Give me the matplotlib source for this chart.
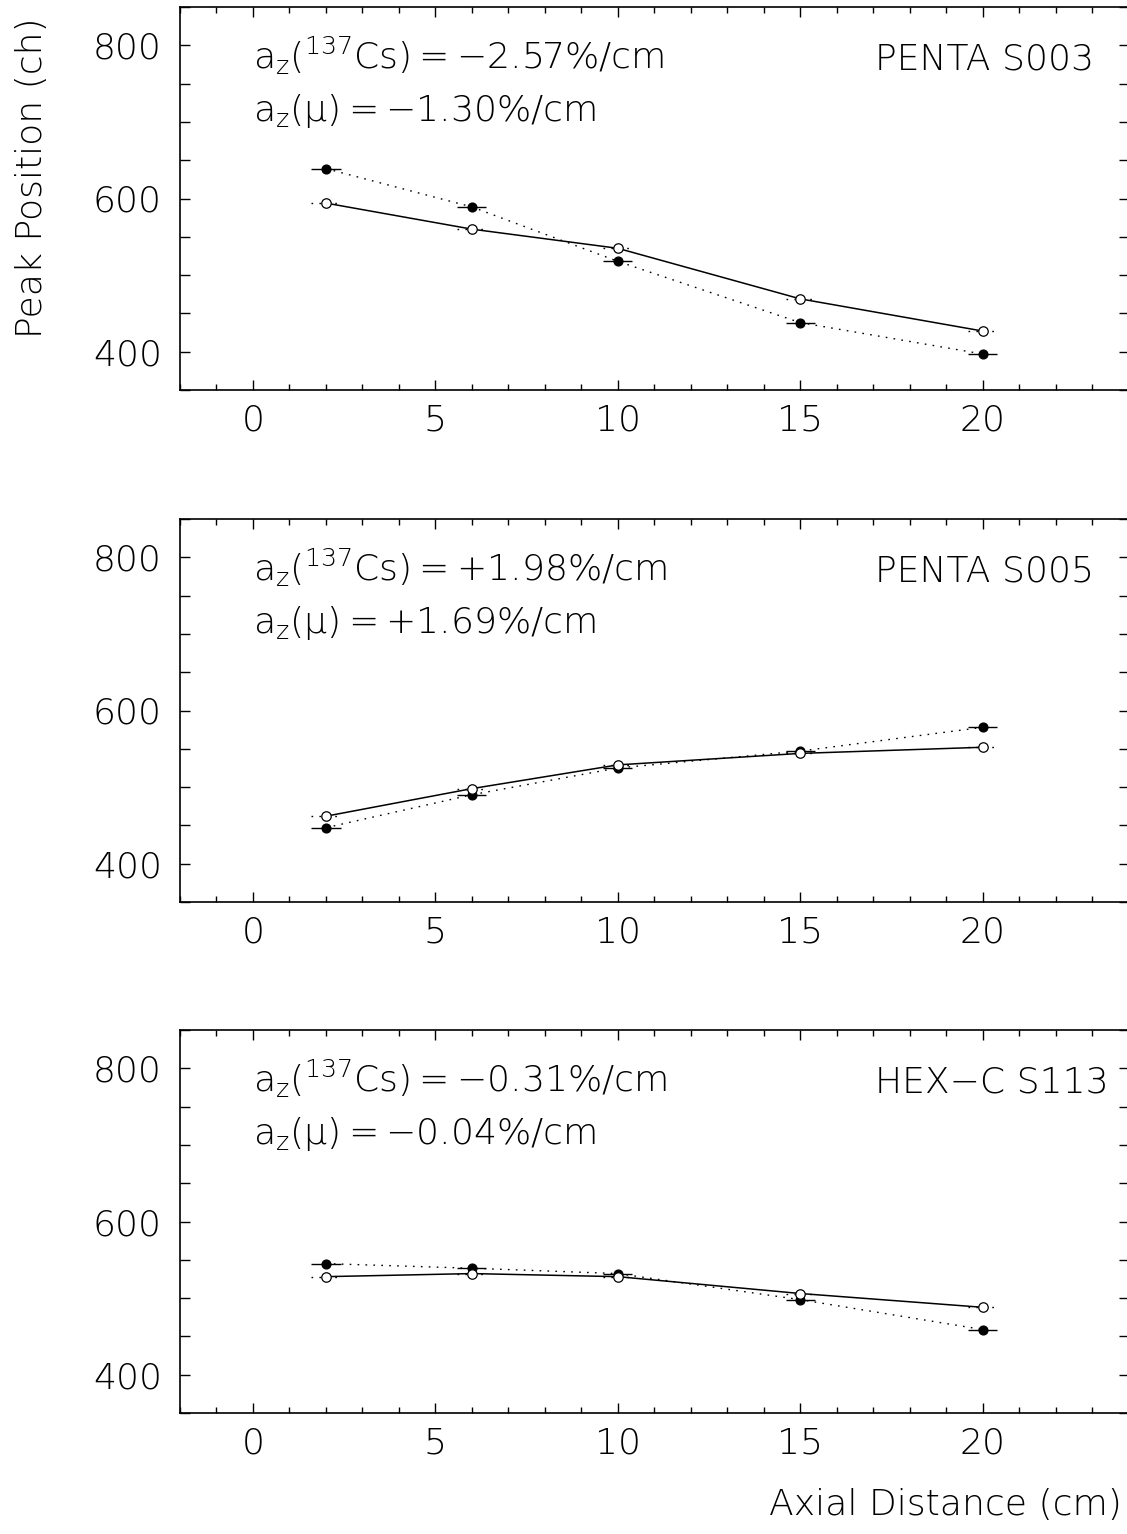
import matplotlib
matplotlib.use("Agg")
import matplotlib.pyplot as plt
from matplotlib import font_manager
from matplotlib.ticker import MultipleLocator

# thin sans face if there is one
fp = font_manager.FontProperties(family='DejaVu Sans', weight='light')
path = font_manager.findfont(fp, fallback_to_default=False)
if 'ExtraLight' in path:
    fam, fs = 'DejaVu Sans', 26
else:
    fam, fs = 'Roboto', 28

plt.rcParams['font.family'] = [fam, 'DejaVu Sans']
plt.rcParams['font.weight'] = 'light'
plt.rcParams['axes.labelweight'] = 'light'
plt.rcParams['mathtext.fontset'] = 'custom'
plt.rcParams['mathtext.rm'] = fam + ':light'
plt.rcParams['mathtext.it'] = fam + ':light'

# axial positions (cm)
dist = [2, 6, 10, 15, 20]
dist_err = [0.4, 0.4, 0.4, 0.4, 0.4]

# peak positions (ch): filled = 137Cs, open = muon
names = ["PENTA S003", "PENTA S005", "HEX\u2212C S113"]
cs_peak = [
    [639, 589, 518, 438, 397],
    [447, 490, 525, 547, 578],
    [545, 539, 532, 498, 459],
]
mu_peak = [
    [594, 560, 535, 469, 427],
    [462, 498, 529, 544, 552],
    [528, 532, 528, 506, 488],
]
cs_slope = ["\u22122.57", "+1.98", "\u22120.31"]
mu_slope = ["\u22121.30", "+1.69", "\u22120.04"]

W, H = 1127, 1534
fig = plt.figure(figsize=(W / 100, H / 100), dpi=100)

tops = [7, 519, 1030]
ax_h = 383
left = 180
right = 1128.5
dots = (0, (1.2, 4.5))
eq = "\u2009=\u2009"

for i in range(3):
    ax = fig.add_axes([left / W, 1 - (tops[i] + ax_h) / H, (right - left) / W, ax_h / H])

    # 137Cs: filled, dotted line, solid error bars
    ax.errorbar(dist, cs_peak[i], xerr=dist_err, fmt='o', color='black',
                ms=6.3, lw=1.0, elinewidth=1.0, capsize=0, zorder=3)
    ax.plot(dist, cs_peak[i], color='black', lw=1.0, linestyle=dots, zorder=2)

    # muon: open, solid line, dotted error bars
    e2 = ax.errorbar(dist, mu_peak[i], xerr=dist_err, fmt='o', color='black',
                     mfc='white', mec='black', mew=0.9, ms=6.8, lw=1.0,
                     elinewidth=1.0, capsize=0, zorder=3)
    e2[2][0].set_linestyle(dots)
    ax.plot(dist, mu_peak[i], color='black', lw=1.1, zorder=2)

    ax.set_xlim(-2, 24)
    ax.set_ylim(350, 850)
    ax.xaxis.set_major_locator(MultipleLocator(5))
    ax.xaxis.set_minor_locator(MultipleLocator(1))
    ax.yaxis.set_major_locator(MultipleLocator(200))
    ax.yaxis.set_minor_locator(MultipleLocator(50))
    ax.tick_params(which='both', direction='in', top=True, right=True,
                   width=1.0, labelsize=fs)
    ax.tick_params(axis='x', which='major', length=7, pad=10)
    ax.tick_params(axis='x', which='minor', length=4)
    ax.tick_params(axis='y', which='both', length=7, pad=13)
    for s in ax.spines.values():
        s.set_linewidth(1.2)

    tr = ax.get_xaxis_transform()
    ax.text(0.0, 0.838, r'a$_\mathrm{z}$($^\mathrm{137}$Cs)' + eq + cs_slope[i] + '%/cm',
            transform=tr, fontsize=fs, va='baseline')
    ax.text(0.0, 0.702, r'a$_\mathrm{z}$(' + '\u03bc)' + eq + mu_slope[i] + '%/cm',
            transform=tr, fontsize=fs, va='baseline')
    ax.text(17.05, 0.838, names[i], transform=tr, fontsize=fs, va='baseline')

fig.text(32 / W, 1 - 178 / H, 'Peak Position (ch)', rotation=90,
         fontsize=fs, ha='center', va='center')
fig.text(1122 / W, 1 - 1505 / H, 'Axial Distance (cm)',
         fontsize=fs, ha='right', va='center')

fig.savefig('out.png', dpi=100)
